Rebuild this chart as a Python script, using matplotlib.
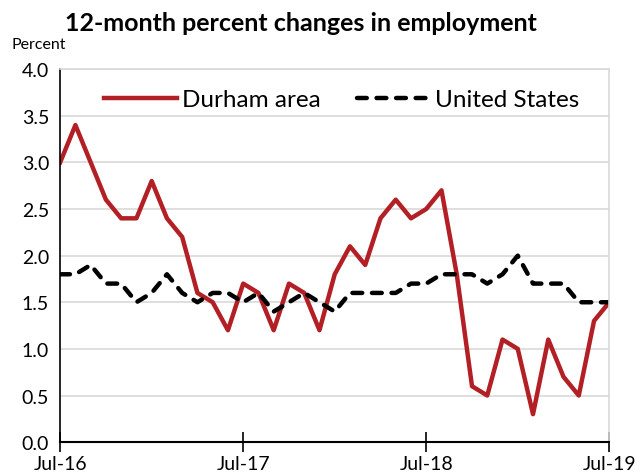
import matplotlib
matplotlib.use("Agg")
import matplotlib.pyplot as plt

# monthly values, Jul-16 .. Jul-19
months = list(range(37))
durham = [3.0, 3.4, 3.0, 2.6, 2.4, 2.4, 2.8, 2.4, 2.2, 1.6, 1.5, 1.2,
          1.7, 1.6, 1.2, 1.7, 1.6, 1.2, 1.8, 2.1, 1.9, 2.4, 2.6, 2.4,
          2.5, 2.7, 1.8, 0.6, 0.5, 1.1, 1.0, 0.3, 1.1, 0.7, 0.5, 1.3,
          1.5]
us = [1.8, 1.8, 1.9, 1.7, 1.7, 1.5, 1.6, 1.8, 1.6, 1.5, 1.6, 1.6,
      1.5, 1.6, 1.4, 1.5, 1.6, 1.5, 1.4, 1.6, 1.6, 1.6, 1.6, 1.7,
      1.7, 1.8, 1.8, 1.8, 1.7, 1.8, 2.0, 1.7, 1.7, 1.7, 1.5, 1.5,
      1.5]
tick_pos = [0, 12, 24, 36]
tick_labels = ["Jul-16", "Jul-17", "Jul-18", "Jul-19"]

plt.rcParams['font.family'] = ['Lato', 'DejaVu Sans']

fig = plt.figure(figsize=(6.4, 4.77), dpi=100)
ax = fig.add_axes([0.094, 0.071, 0.858, 0.782])

ax.plot(months, durham, color="#b22025", lw=3.2, label="Durham area")
ax.plot(months, us, color="black", lw=3.2, ls=(0, (2.2, 2.2)),
        dash_capstyle="round", label="United States")

ax.set_xlim(0, 36)
ax.set_ylim(0, 4.0)
ax.set_yticks([i * 0.5 for i in range(9)])
ax.set_yticklabels([f"{i * 0.5:.1f}" for i in range(9)], fontsize=14)
ax.set_xticks(tick_pos)
ax.set_xticklabels(tick_labels, fontsize=14)
ax.tick_params(axis="x", direction="inout", length=15, width=1.2, pad=2)
ax.tick_params(axis="y", length=0, pad=8)

ax.grid(axis="y", color="#d9d9d9", lw=1.2)
ax.set_axisbelow(True)
for s in ["top", "right"]:
    ax.spines[s].set_color("#d9d9d9")
    ax.spines[s].set_linewidth(1.2)
ax.spines["left"].set_linewidth(1.2)
ax.spines["bottom"].set_linewidth(1.5)

ax.legend(loc="upper center", ncol=2, frameon=False, fontsize=17.5,
          handlelength=3.0, handletextpad=0.2, columnspacing=1.5,
          bbox_to_anchor=(0.513, 1.005))

fig.text(0.47, 0.935, "12-month percent changes in employment", ha="center",
         fontsize=18, fontweight="bold")
fig.text(0.018, 0.898, "Percent", fontsize=11.5)

fig.savefig("out.png", dpi=100)
